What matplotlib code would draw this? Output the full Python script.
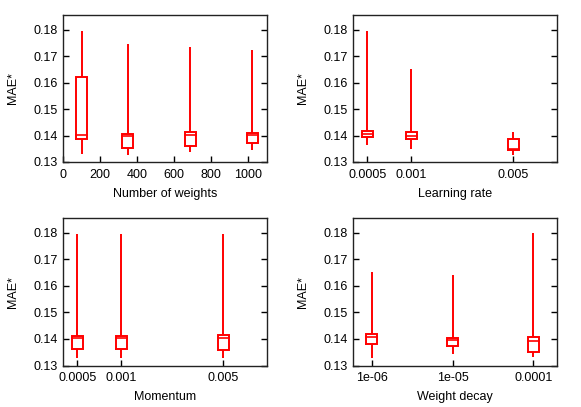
import matplotlib
matplotlib.use("Agg")
import matplotlib.pyplot as plt
from matplotlib.ticker import FixedLocator, FixedFormatter, NullLocator

plt.rcParams['font.family'] = ['Liberation Sans', 'DejaVu Sans']
plt.rcParams['font.size'] = 9

# ---- Data ----
# Number of weights
nw_pos = [100, 350, 685, 1020]
nw_low = [0.1332, 0.1325, 0.1337, 0.1344]
nw_q1 = [0.1385, 0.1351, 0.1359, 0.1372]
nw_med = [0.1401, 0.1397, 0.1401, 0.1401]
nw_q3 = [0.1621, 0.1404, 0.1415, 0.1408]
nw_high = [0.1796, 0.1744, 0.1735, 0.1721]
nw_ticks = [0, 200, 400, 600, 800, 1000]

# Learning rate
lr_pos = [0.0005, 0.001, 0.005]
lr_labels = ["0.0005", "0.001", "0.005"]
lr_low = [0.1366, 0.1348, 0.1325]
lr_q1 = [0.1396, 0.1386, 0.1346]
lr_med = [0.1406, 0.1400, 0.1348]
lr_q3 = [0.1418, 0.1414, 0.1388]
lr_high = [0.1796, 0.1650, 0.1415]

# Momentum
mo_pos = [0.0005, 0.001, 0.005]
mo_labels = ["0.0005", "0.001", "0.005"]
mo_low = [0.1328, 0.1328, 0.1328]
mo_q1 = [0.1361, 0.1361, 0.1360]
mo_med = [0.1404, 0.1404, 0.1405]
mo_q3 = [0.1411, 0.1411, 0.1415]
mo_high = [0.1796, 0.1796, 0.1796]

# Weight decay
wd_pos = [1e-6, 1e-5, 1e-4]
wd_labels = ["1e-06", "1e-05", "0.0001"]
wd_low = [0.1328, 0.1343, 0.1331]
wd_q1 = [0.1382, 0.1375, 0.1350]
wd_med = [0.1407, 0.1396, 0.1394]
wd_q3 = [0.1419, 0.1404, 0.1407]
wd_high = [0.1652, 0.1640, 0.1798]

y_ticks = [0.13, 0.14, 0.15, 0.16, 0.17, 0.18]
y_labels = ["0.13", "0.14", "0.15", "0.16", "0.17", "0.18"]

RED = "#ff0000"
W = 581
H = 407
fig = plt.figure(figsize=(W / 100, H / 100), dpi=100)


def make_ax(l, t, r, b):
    return fig.add_axes([l / W, 1 - b / H, (r - l) / W, (b - t) / H])


def candles(ax, pos, low, q1, med, q3, high, half, log):
    for x, lo, a, m, c, hi in zip(pos, low, q1, med, q3, high):
        if log:
            x0, x1 = x / 10 ** half, x * 10 ** half
        else:
            x0, x1 = x - half, x + half
        ax.plot([x, x], [lo, a], color=RED, lw=1.4, solid_capstyle='butt')
        ax.plot([x, x], [c, hi], color=RED, lw=1.4, solid_capstyle='butt')
        ax.plot([x0, x1, x1, x0, x0], [a, a, c, c, a], color=RED, lw=1.4,
                solid_joinstyle='miter')
        ax.plot([x0, x1], [m, m], color=RED, lw=1.2)


def style(ax, xlabel):
    ax.set_ylim(0.13, 0.1855)
    ax.yaxis.set_major_locator(FixedLocator(y_ticks))
    ax.yaxis.set_major_formatter(FixedFormatter(y_labels))
    ax.yaxis.set_minor_locator(NullLocator())
    ax.xaxis.set_minor_locator(NullLocator())
    ax.tick_params(axis='y', which='both', direction='in', left=True, right=True,
                   length=4, width=1, pad=4)
    ax.tick_params(axis='x', which='both', direction='in', bottom=True, top=False,
                   length=4, width=1, pad=5)
    for s in ax.spines.values():
        s.set_linewidth(1.0)
        s.set_color("#222222")
    ax.set_ylabel("MAE*", labelpad=10)
    ax.set_xlabel(xlabel, labelpad=5)


# Top-left
ax1 = make_ax(63, 15, 267, 162)
candles(ax1, nw_pos, nw_low, nw_q1, nw_med, nw_q3, nw_high, 29.5, False)
ax1.set_xlim(0, 1100)
style(ax1, "Number of weights")
ax1.xaxis.set_major_locator(FixedLocator(nw_ticks))
ax1.xaxis.set_major_formatter(FixedFormatter([str(v) for v in nw_ticks]))

# Top-right
ax2 = make_ax(353.3, 15, 557.3, 162)
ax2.set_xscale('log')
candles(ax2, lr_pos, lr_low, lr_q1, lr_med, lr_q3, lr_high, 0.0377, True)
ax2.set_xlim(0.0004, 0.01)
style(ax2, "Learning rate")
ax2.xaxis.set_major_locator(FixedLocator(lr_pos))
ax2.xaxis.set_major_formatter(FixedFormatter(lr_labels))

# Bottom-left
ax3 = make_ax(63, 218.3, 267, 365.5)
ax3.set_xscale('log')
candles(ax3, mo_pos, mo_low, mo_q1, mo_med, mo_q3, mo_high, 0.0377, True)
ax3.set_xlim(0.0004, 0.01)
style(ax3, "Momentum")
ax3.xaxis.set_major_locator(FixedLocator(mo_pos))
ax3.xaxis.set_major_formatter(FixedFormatter(mo_labels))

# Bottom-right
ax4 = make_ax(353.3, 218.3, 557.3, 365.5)
ax4.set_xscale('log')
candles(ax4, wd_pos, wd_low, wd_q1, wd_med, wd_q3, wd_high, 0.068, True)
ax4.set_xlim(5.9e-7, 1.98e-4)
style(ax4, "Weight decay")
ax4.xaxis.set_major_locator(FixedLocator(wd_pos))
ax4.xaxis.set_major_formatter(FixedFormatter(wd_labels))

fig.savefig("out.png", dpi=100)
